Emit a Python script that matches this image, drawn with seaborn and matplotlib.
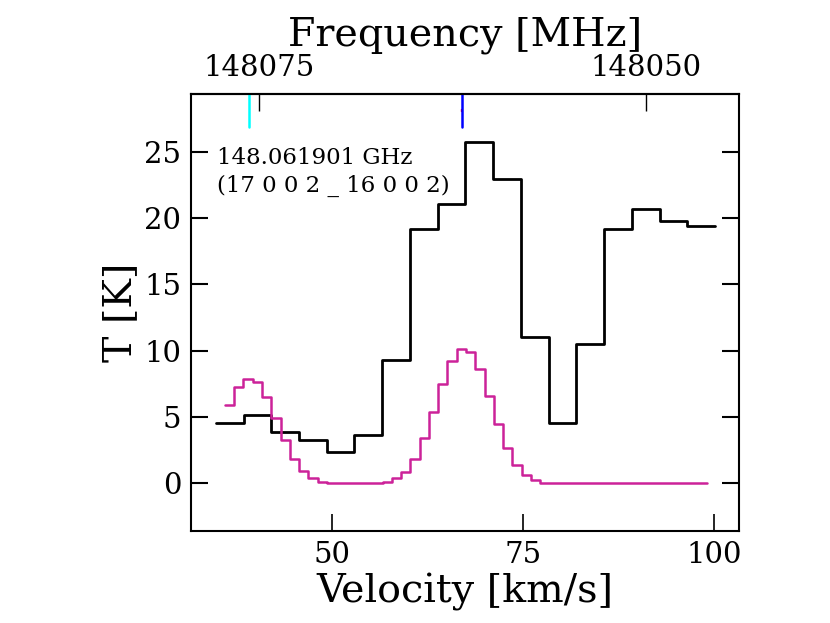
import numpy as np
import pandas as pd
import matplotlib
matplotlib.use("Agg")
import matplotlib.pyplot as plt
from matplotlib.ticker import FixedLocator, FormatStrFormatter
import seaborn as sns


# DATA

# observed spectrum (black), channel centres in km/s
obs_vel = [36.60, 40.23, 43.86, 47.49, 51.12, 54.75, 58.38, 62.01, 65.64,
           69.27, 72.90, 76.53, 80.16, 83.79, 87.42, 91.05, 94.68, 98.31]
obs_T = [4.52, 5.15, 3.89, 3.24, 2.38, 3.64, 9.31, 19.16, 21.02,
         25.70, 22.95, 11.00, 4.54, 10.47, 19.16, 20.70, 19.77, 19.39]
obs_width = 3.63

# model spectrum (magenta), channel centres in km/s
model_vel = [36.60, 37.81, 39.02, 40.24, 41.45, 42.66, 43.88, 45.09, 46.30,
             47.52, 48.73, 49.94, 51.16, 52.37, 53.58, 54.80, 56.01, 57.22,
             58.43, 59.65, 60.86, 62.07, 63.29, 64.50, 65.71, 66.93, 68.14,
             69.35, 70.57, 71.78, 72.99, 74.21, 75.42, 76.63, 77.85, 79.06,
             80.27, 81.48, 82.70, 83.91, 85.12, 86.34, 87.55, 88.76, 89.98,
             91.19, 92.40, 93.62, 94.83, 96.04, 97.26, 98.47]
model_T = [5.90, 7.28, 7.88, 7.66, 6.48, 4.94, 3.29, 1.86, 0.93,
           0.42, 0.12, 0.02, 0.0, 0.0, 0.0, 0.0, 0.03, 0.12,
           0.38, 0.85, 1.81, 3.39, 5.35, 7.48, 9.22, 10.12, 9.92,
           8.61, 6.60, 4.47, 2.68, 1.36, 0.63, 0.23, 0.05, 0.0,
           0.0, 0.0, 0.0, 0.0, 0.0, 0.0, 0.0, 0.0, 0.0,
           0.0, 0.0, 0.0, 0.0, 0.0, 0.0, 0.0]
model_width = 1.213

REST_FREQ = 148061.901  # MHz
V_SYS = 67.0            # km/s
C_KMS = 299792.458

freq_ticks = [148075, 148050]
x_ticks = [50, 75, 100]
y_ticks = [0, 5, 10, 15, 20, 25]
line_label = "148.061901 GHz\n(17 0 0 2 _ 16 0 0 2)"
cyan_vel = 39.1
blue_vel = 67.0


# HELPERS

def step_frame(vel, temp, width):
    vel = np.asarray(vel, dtype=float)
    temp = np.asarray(temp, dtype=float)
    edges = np.append(vel - width / 2, vel[-1] + width / 2)
    return pd.DataFrame({"v": edges, "T": np.append(temp, temp[-1])})


def v2f(v):
    return REST_FREQ * (1 - (np.asarray(v) - V_SYS) / C_KMS)


def f2v(f):
    return V_SYS + C_KMS * (1 - np.asarray(f) / REST_FREQ)


# PLOT

sns.set_style("ticks")
plt.rcParams["font.family"] = ["DejaVu Serif"]
plt.rcParams["axes.linewidth"] = 1.5
for key in ["text.color", "axes.labelcolor", "axes.edgecolor",
            "xtick.color", "ytick.color"]:
    plt.rcParams[key] = "black"

fig = plt.figure(figsize=(8.3, 6.23), dpi=100)
ax = fig.add_axes([0.2301, 0.1477, 0.6603, 0.7009])

sns.lineplot(data=step_frame(obs_vel, obs_T, obs_width), x="v", y="T",
             drawstyle="steps-post", color="black", lw=2.0,
             estimator=None, sort=False, ax=ax)
sns.lineplot(data=step_frame(model_vel, model_T, model_width), x="v", y="T",
             drawstyle="steps-post", color="#cc2299", lw=1.8,
             estimator=None, sort=False, ax=ax)

ax.axvline(cyan_vel, ymin=0.925, ymax=1.0, color="cyan", lw=1.8)
ax.axvline(blue_vel - 0.15, ymin=0.962, ymax=0.967, color="red", lw=1.0)
ax.axvline(blue_vel, ymin=0.925, ymax=1.0, color="blue", lw=1.8)

ax.set_xlim(31.54, 103.27)
ax.set_ylim(-3.59, 29.31)
ax.set_xticks(x_ticks)
ax.set_yticks(y_ticks)
ax.tick_params(direction="in", length=12, width=1.5, top=False, right=True,
               labelsize=21, pad=7)
ax.tick_params(axis="x", width=1.2)

ax.set_xlabel("Velocity [km/s]", fontsize=28.5, labelpad=3)
ax.set_ylabel("T [K]", fontsize=28.5, labelpad=4)

secax = ax.secondary_xaxis("top", functions=(v2f, f2v))
secax.xaxis.set_major_locator(FixedLocator(freq_ticks))
secax.xaxis.set_major_formatter(FormatStrFormatter("%d"))
secax.tick_params(direction="in", length=12, width=1.0, labelsize=21, pad=9)
secax.set_xlabel("Frequency [MHz]", fontsize=28.5, labelpad=6)

ax.text(0.048, 0.88, line_label, transform=ax.transAxes, fontsize=16.5,
        va="top", ha="left", linespacing=1.35)

fig.savefig("out.png", dpi=100)
